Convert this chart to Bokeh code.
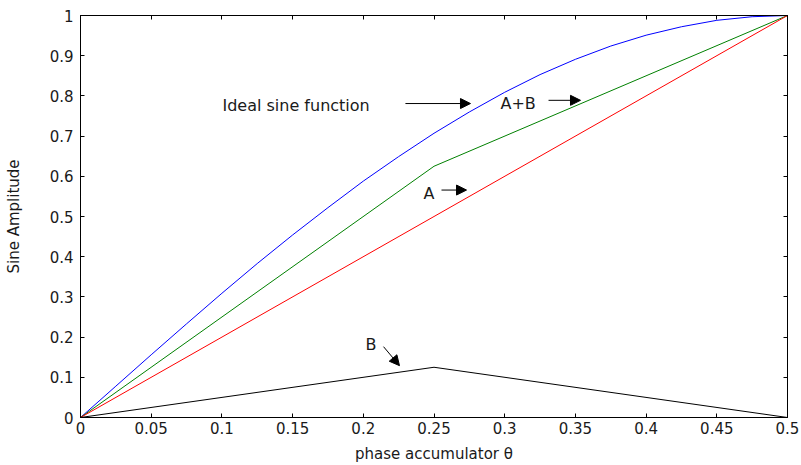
from bokeh.plotting import figure
from bokeh.models import (LinearAxis, FixedTicker, Label, Arrow, NormalHead,
                          Range1d)
from bokeh.embed import file_html
from bokeh.resources import INLINE

# phase accumulator samples and the ideal sine amplitude
theta_sine = [0.0, 0.025, 0.05, 0.075, 0.1, 0.125, 0.15, 0.175, 0.2, 0.225,
              0.25, 0.275, 0.3, 0.325, 0.35, 0.375, 0.4, 0.425, 0.45, 0.475, 0.5]
ideal_sine = [0.0, 0.078, 0.156, 0.233, 0.309, 0.383, 0.454, 0.522, 0.588,
              0.649, 0.707, 0.760, 0.809, 0.853, 0.891, 0.924, 0.951, 0.972,
              0.988, 0.997, 1.0]

# piecewise-linear approximation terms
theta_pw = [0.0, 0.25, 0.5]
term_a = [0.0, 0.5, 1.0]
term_b = [0.0, 0.125, 0.0]
term_ab = [0.0, 0.625, 1.0]

x_ticks = [0, 0.05, 0.1, 0.15, 0.2, 0.25, 0.3, 0.35, 0.4, 0.45, 0.5]
x_tick_labels = ["0", "0.05", "0.1", "0.15", "0.2", "0.25", "0.3", "0.35",
                 "0.4", "0.45", "0.5"]
y_ticks = [0, 0.1, 0.2, 0.3, 0.4, 0.5, 0.6, 0.7, 0.8, 0.9, 1]
y_tick_labels = ["0", "0.1", "0.2", "0.3", "0.4", "0.5", "0.6", "0.7", "0.8",
                 "0.9", "1"]

FONT = "DejaVu Sans"
INK = "#1a1a1a"

p = figure(width=801, height=465, x_range=Range1d(0, 0.5), y_range=Range1d(0, 1),
           output_backend="svg", toolbar_location=None,
           min_border_left=80, min_border_right=14, min_border_top=15,
           min_border_bottom=47)
p.grid.visible = False
p.outline_line_color = "black"
p.background_fill_color = "white"
p.border_fill_color = "white"

p.line(theta_sine, ideal_sine, line_color="#0000ff", line_width=1)
p.line(theta_pw, term_ab, line_color="#008000", line_width=1)
p.line(theta_pw, term_a, line_color="#ff0000", line_width=1)
p.line(theta_pw, term_b, line_color="black", line_width=1)


def style_axis(ax, ticks, labels, show_labels):
    ax.ticker = FixedTicker(ticks=ticks)
    ax.major_tick_in = 4
    ax.major_tick_out = 0
    ax.minor_tick_in = 0
    ax.minor_tick_out = 0
    ax.axis_line_color = "black"
    ax.major_tick_line_color = "black"
    if show_labels:
        ax.major_label_overrides = {t: l for t, l in zip(ticks, labels)}
        ax.major_label_text_font = FONT
        ax.major_label_text_font_size = "15px"
        ax.major_label_text_color = INK
        ax.axis_label_text_font = FONT
        ax.axis_label_text_font_size = "15px"
        ax.axis_label_text_font_style = "normal"
        ax.axis_label_text_color = INK
    else:
        # tick marks only on the mirrored box edges
        ax.major_label_text_font_size = "0px"
        ax.major_label_text_color = None
        ax.major_label_standoff = 0


xa = p.xaxis[0]
style_axis(xa, x_ticks, x_tick_labels, True)
xa.axis_label = "phase accumulator θ"
xa.major_label_standoff = 4
xa.axis_label_standoff = 8

ya = p.yaxis[0]
style_axis(ya, y_ticks, y_tick_labels, True)
ya.axis_label = "Sine Amplitude"
ya.major_label_standoff = 7
ya.axis_label_standoff = 24

top = LinearAxis()
style_axis(top, x_ticks, x_tick_labels, False)
p.add_layout(top, "above")
right = LinearAxis()
style_axis(right, y_ticks, y_tick_labels, False)
p.add_layout(right, "right")


def note(x, y, text):
    p.add_layout(Label(x=x, y=y, text=text, text_font=FONT,
                       text_font_size="16px", text_color=INK,
                       text_align="left", text_baseline="middle"))


def pointer(x0, y0, x1, y1):
    p.add_layout(Arrow(x_start=x0, y_start=y0, x_end=x1, y_end=y1,
                       line_color="black", line_width=1,
                       end=NormalHead(size=10, fill_color="black",
                                      line_color="black")))


note(0.1004, 0.7767, "Ideal sine function")
pointer(0.2298, 0.781, 0.2758, 0.781)
note(0.297, 0.7816, "A+B")
pointer(0.331, 0.789, 0.3536, 0.789)
note(0.2426, 0.558, "A")
pointer(0.2553, 0.5658, 0.273, 0.5658)
note(0.2016, 0.181, "B")
pointer(0.2143, 0.1762, 0.2256, 0.129)

open("out.html", "w").write(file_html(p, INLINE))
